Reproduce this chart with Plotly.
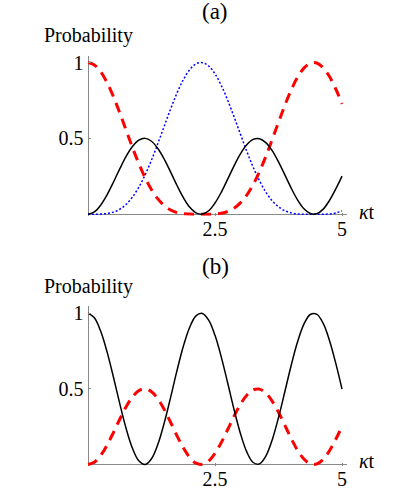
import plotly.graph_objects as go

# time axis (kappa t), sampled every 0.125
t = [i * 0.125 for i in range(41)]

# panel (a)
red_a = [1, 0.984, 0.939, 0.867, 0.775, 0.668, 0.554, 0.440, 0.334, 0.240, 0.162,
         0.101, 0.057, 0.028, 0.011, 0.003, 0.001, 0.000, 0.000, 0.000, 0.001,
         0.006, 0.018, 0.040, 0.075, 0.126, 0.195, 0.281, 0.381, 0.492, 0.606,
         0.718, 0.819, 0.903, 0.963, 0.995, 0.997, 0.967, 0.909, 0.827, 0.727]
blue_a = [0, 0.000, 0.001, 0.005, 0.014, 0.033, 0.065, 0.113, 0.178, 0.260, 0.357,
          0.466, 0.580, 0.693, 0.797, 0.886, 0.952, 0.991, 0.999, 0.977, 0.925,
          0.848, 0.751, 0.642, 0.528, 0.415, 0.311, 0.221, 0.146, 0.089, 0.049,
          0.023, 0.009, 0.002, 0.000, 0.000, 0.000, 0.000, 0.002, 0.008, 0.022]
black_a = [0, 0.015, 0.060, 0.128, 0.211, 0.299, 0.381, 0.446, 0.488, 0.500, 0.481,
           0.433, 0.363, 0.279, 0.191, 0.111, 0.047, 0.009, 0.001, 0.023, 0.074,
           0.146, 0.231, 0.319, 0.398, 0.458, 0.493, 0.498, 0.472, 0.419, 0.345,
           0.259, 0.172, 0.094, 0.036, 0.005, 0.003, 0.032, 0.089, 0.165, 0.251]

# panel (b)
black_b = [1, 0.969, 0.880, 0.744, 0.578, 0.402, 0.238, 0.107, 0.024, 0.000, 0.038,
           0.133, 0.274, 0.442, 0.618, 0.779, 0.905, 0.982, 0.998, 0.954, 0.853,
           0.708, 0.538, 0.363, 0.205, 0.083, 0.013, 0.004, 0.055, 0.162, 0.310,
           0.482, 0.656, 0.811, 0.927, 0.991, 0.993, 0.935, 0.823, 0.671, 0.498]
red_b = [0, 0.015, 0.060, 0.128, 0.211, 0.299, 0.381, 0.446, 0.488, 0.500, 0.481,
         0.433, 0.363, 0.279, 0.191, 0.111, 0.047, 0.009, 0.001, 0.023, 0.074,
         0.146, 0.231, 0.319, 0.398, 0.458, 0.493, 0.498, 0.472, 0.419, 0.345,
         0.259, 0.172, 0.094, 0.036, 0.005, 0.003, 0.032, 0.089, 0.165, 0.251]

x_ticks = [2.5, 5]
x_ticktext = ["2.5", "5"]
y_ticks = [0.5, 1]
y_ticktext = ["0.5", "1"]

FONT = "Liberation Serif"
FS = 20
# body margin is removed in the page (see post_script), so the figure
# fills the whole window and positions are plain window pixels
W, H = 415, 490


def px(x):
    return x / W


def py(y):
    return 1 - y / H


red_line = dict(color="#ff0000", width=3, dash="10px,7px")
blue_line = dict(color="#0000ff", width=1.5, dash="2px,2px")
black_line = dict(color="black", width=1.5)

fig = go.Figure()
fig.add_trace(go.Scatter(x=t, y=blue_a, mode="lines", line=blue_line, line_shape="spline", xaxis="x", yaxis="y"))
fig.add_trace(go.Scatter(x=t, y=red_a, mode="lines", line=red_line, line_shape="spline", xaxis="x", yaxis="y"))
fig.add_trace(go.Scatter(x=t, y=black_a, mode="lines", line=black_line, line_shape="spline", xaxis="x", yaxis="y"))
fig.add_trace(go.Scatter(x=t, y=red_b, mode="lines", line=red_line, line_shape="spline", xaxis="x2", yaxis="y2"))
fig.add_trace(go.Scatter(x=t, y=black_b, mode="lines", line=black_line, line_shape="spline", xaxis="x2", yaxis="y2"))

xax = dict(domain=[px(87.5), px(347.1)], range=[-0.01, 5.1], showgrid=False, showline=False,
           zeroline=True, zerolinecolor="#888888", zerolinewidth=1,
           tickvals=x_ticks, ticktext=x_ticktext, ticks="inside", ticklen=3,
           tickcolor="#888888", tickwidth=1, ticklabelstandoff=-1,
           tickfont=dict(family=FONT, size=FS, color="black"))
yax = dict(range=[-0.01, 1.045], showgrid=False, showline=False,
           zeroline=True, zerolinecolor="#888888", zerolinewidth=1,
           tickvals=y_ticks, ticktext=y_ticktext, ticks="inside", ticklen=3,
           tickcolor="#888888", tickwidth=1, ticklabelstandoff=3,
           tickfont=dict(family=FONT, size=FS, color="black"))

fig.update_layout(
    width=W, height=H,
    margin=dict(l=0, r=0, t=0, b=0),
    paper_bgcolor="white", plot_bgcolor="white",
    showlegend=False,
    xaxis=dict(xax, anchor="y"),
    yaxis=dict(yax, domain=[py(213.5), py(52.1)], anchor="x"),
    xaxis2=dict(xax, anchor="y2"),
    yaxis2=dict(yax, domain=[py(465.8), py(304.8)], anchor="x2"),
)

# panel titles and axis labels: text, x, y, xanchor, yanchor, yshift, size
labels = [
    ("(a)", 215, 0, "center", "top", 7, 23),
    ("Probability", 42, 32, "left", "middle", 0, FS),
    ("<i>κ</i>t", 357, 210, "left", "middle", 0, FS),
    ("(b)", 215, 265, "center", "middle", 0, 23),
    ("Probability", 42, 285, "left", "middle", 0, FS),
    ("<i>κ</i>t", 357, 461, "left", "middle", 0, FS),
]
for text, x, y, xa, ya, ys, size in labels:
    fig.add_annotation(text=text, x=px(x), y=py(y), xref="paper", yref="paper",
                       xanchor=xa, yanchor=ya, yshift=ys, showarrow=False,
                       font=dict(family=FONT, size=size, color="black"))

fig.write_html("out.html", config={"displayModeBar": False},
               post_script="document.body.style.margin = '0px';")
